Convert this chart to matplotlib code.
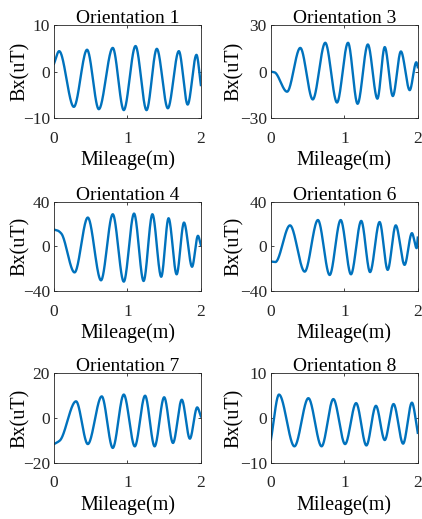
import matplotlib
matplotlib.use("Agg")
import matplotlib.pyplot as plt
import numpy as np

# key points (mileage in m, Bx in uT), one pair of lists per orientation
titles = ["Orientation 1", "Orientation 3", "Orientation 4",
          "Orientation 6", "Orientation 7", "Orientation 8"]

o1_x = [0, 0.07, 0.27, 0.45, 0.61, 0.80, 0.95, 1.11, 1.26, 1.40, 1.55, 1.70, 1.82, 1.94, 2.0]
o1_y = [1.7, 4.4, -7.6, 4.7, -8.1, 5.1, -8.3, 5.5, -8.3, 4.9, -7.9, 4.4, -7.1, 3.6, -2.9]

o3_x = [0, 0.05, 0.22, 0.40, 0.57, 0.74, 0.90, 1.05, 1.18, 1.32, 1.45, 1.55, 1.66, 1.77, 1.89, 1.98, 2.0]
o3_y = [0, -0.5, -13, 15.3, -18, 18.6, -20, 18.6, -20.8, 17.5, -17.5, 15.8, -15.8, 13, -12, 6, 2.8]

o4_x = [0, 0.05, 0.10, 0.28, 0.46, 0.64, 0.80, 0.95, 1.09, 1.22, 1.34, 1.46, 1.56, 1.67, 1.77, 1.88, 1.96, 2.0]
o4_y = [15.2, 14.3, 11.6, -23.3, 26, -30.4, 29, -31.6, 29.6, -31, 29, -27.2, 25.4, -25, 21.5, -18.2, 9.6, 1.2]

o6_x = [0, 0.06, 0.26, 0.46, 0.64, 0.80, 0.95, 1.09, 1.23, 1.35, 1.48, 1.59, 1.70, 1.82, 1.92, 1.985, 2.0]
o6_y = [-13.5, -14, 19, -22.6, 23.8, -25.6, 23.8, -25, 23, -23, 22, -21, 19, -16.5, 12, -1.5, 8]

o7_x = [0, 0.08, 0.30, 0.46, 0.65, 0.80, 0.95, 1.10, 1.24, 1.37, 1.50, 1.62, 1.74, 1.85, 1.95, 2.0]
o7_y = [-11.6, -10, 7.4, -11.6, 9.6, -13.3, 10.4, -12.6, 9.9, -12.6, 9.2, -11.1, 8.1, -9.2, 4.7, 0.7]

o8_x = [0, 0.11, 0.32, 0.51, 0.69, 0.85, 1.01, 1.16, 1.30, 1.43, 1.55, 1.67, 1.80, 1.92, 2.0]
o8_y = [-4.8, 5.2, -6.3, 4.4, -6.3, 4.2, -5.8, 3.3, -6.1, 2.7, -4.9, 3.1, -5.7, 3.4, -3.3]

series = [(o1_x, o1_y), (o3_x, o3_y), (o4_x, o4_y),
          (o6_x, o6_y), (o7_x, o7_y), (o8_x, o8_y)]
y_limits = [10, 30, 40, 40, 20, 10]


def pchip(x, y, xi):
    # monotone cubic through the key points (flat at the extrema)
    x = np.asarray(x, float)
    y = np.asarray(y, float)
    h = np.diff(x)
    d = np.diff(y) / h
    m = np.zeros_like(y)
    for k in range(1, len(y) - 1):
        if d[k - 1] * d[k] > 0:
            w1 = 2 * h[k] + h[k - 1]
            w2 = h[k] + 2 * h[k - 1]
            m[k] = (w1 + w2) / (w1 / d[k - 1] + w2 / d[k])
    m[0] = d[0]
    m[-1] = d[-1]
    idx = np.clip(np.searchsorted(x, xi) - 1, 0, len(h) - 1)
    t = (xi - x[idx]) / h[idx]
    h00 = 2 * t**3 - 3 * t**2 + 1
    h10 = t**3 - 2 * t**2 + t
    h01 = -2 * t**3 + 3 * t**2
    h11 = t**3 - t**2
    return h00 * y[idx] + h10 * h[idx] * m[idx] + h01 * y[idx + 1] + h11 * h[idx] * m[idx + 1]


plt.rcParams["font.family"] = ["Liberation Serif", "DejaVu Serif"]

fig = plt.figure(figsize=(4.22, 5.19), dpi=100)

lefts = [0.128, 0.642]
ylabel_x = [-0.165, -0.185]
rows = [(0.7726, 0.179), (0.4393, 0.1715), (0.1079, 0.1735)]
width = 0.348

for i, ((xs, ys), title, lim) in enumerate(zip(series, titles, y_limits)):
    r, c = divmod(i, 2)
    bottom, height = rows[r]
    ax = fig.add_axes([lefts[c], bottom, width, height])
    xi = np.linspace(0, 2, 600)
    ax.plot(xi, pchip(xs, ys, xi), color="#0072BD", lw=1.7)
    ax.set_xlim(0, 2)
    ax.set_ylim(-lim, lim)
    ax.set_xticks([0, 1, 2])
    ax.set_yticks([-lim, 0, lim])
    ax.set_title(title, fontsize=14, pad=1.5)
    ax.set_xlabel("Mileage(m)", fontsize=14.5, labelpad=2.5)
    ax.set_ylabel("Bx(uT)", fontsize=14.5)
    ax.yaxis.set_label_coords(ylabel_x[c], 0.5)
    ax.tick_params(direction="in", top=True, right=True, length=2.5,
                   width=0.6, labelsize=12.5, colors="#262626", pad=3)
    ax.tick_params(axis="x", pad=9)
    for s in ax.spines.values():
        s.set_linewidth(0.6)
        s.set_color("#262626")

fig.savefig("out.png", dpi=100)
